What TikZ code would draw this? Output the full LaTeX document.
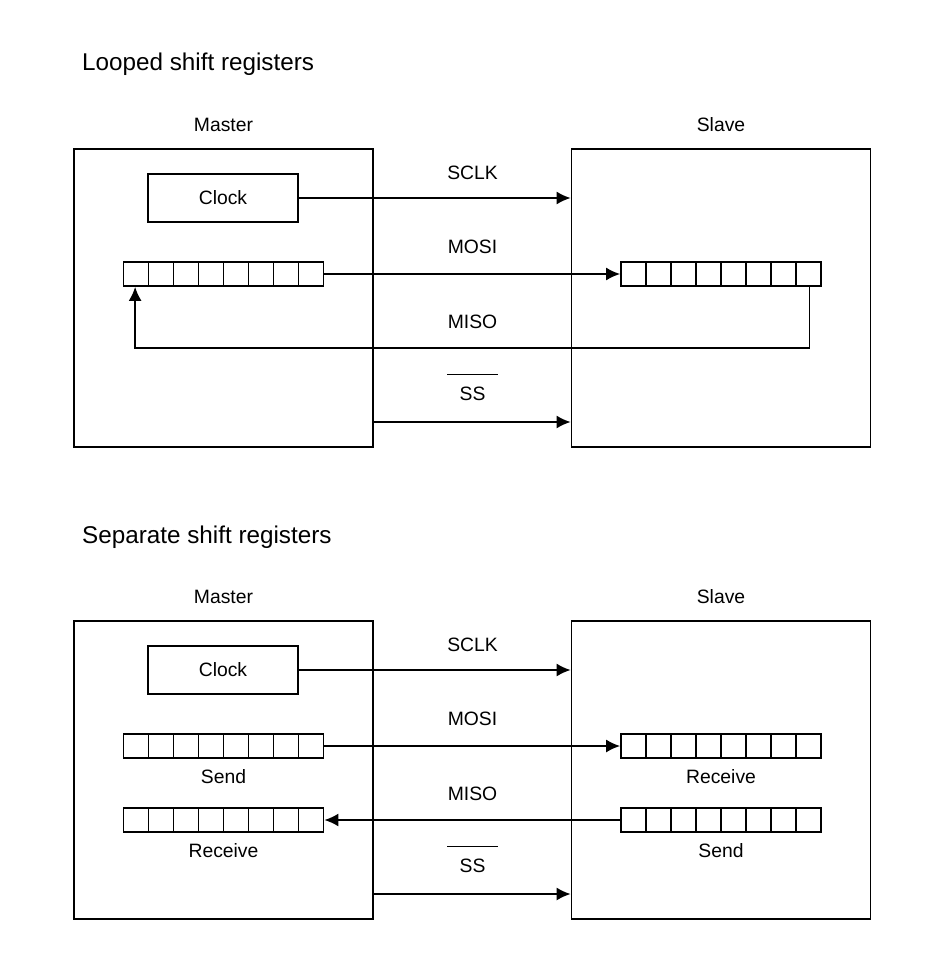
\documentclass[tikz,border=0pt]{standalone}
\usepackage{fontspec}
\setmainfont{Liberation Sans}
\usetikzlibrary{positioning,arrows.meta}
\tikzset {
    unit box/.style={
        draw=black,
        line width=1pt,
        rectangle, % master / slave
        minimum width=5.98cm,
        minimum height=5.96cm,
    },
    clock box/.style={
        draw=black,
        line width=1pt,
        rectangle,
        minimum width=3cm,
        minimum height=0.96cm,
    },
    register/.style={
        draw=black,
        line width=1pt,
        rectangle, % 8 cells
        inner sep=0pt,
        minimum width=4cm,
        minimum height=0.48cm,
        path picture={
            \foreach \k in {1,...,7}
                \draw[line width=1pt] ([xshift=\k*5mm]path picture bounding box.south west) -- ([xshift=\k*5mm]path picture bounding box.north west);
        },
    },
    signal/.style={line width=1pt, -{Latex[length=2.8mm,width=2.6mm]}},
    title/.style={anchor=west, font=\fontsize{13.8}{16}\selectfont},
}

\begin{document}
\begin{tikzpicture}
[font=\fontsize{11}{13}\selectfont]
\useasboundingbox (0,0) rectangle (18.9,-19.4);

% looped shift registers
\node[title] at (1.52,-1.28) (titleA) {Looped shift registers};
\node[unit box] at (4.47,-5.96) (mboxA) {};
\node[unit box] at (14.42,-5.96) (sboxA) {};
\node[above=0.2cm of mboxA] (mlabelA) {Master};
\node[above=0.2cm of sboxA] (slabelA) {Slave};
\node[clock box] at (4.46,-3.96) (clkA) {Clock};
\node[register] at (4.47,-5.48) (mregA) {};
\node[register] at (14.42,-5.48) (sregA) {};
\node at (9.45,-3.46) (sclkA) {SCLK};
\node at (9.45,-4.94) (mosiA) {MOSI};
\node at (9.45,-6.44) (misoA) {MISO};
\node[align=center] at (9.45,-7.74) (ssA) {\rule{1.02cm}{0.7pt}\\[1.5pt]SS};
\coordinate (misoturnA) at (9.45,-6.96);
\coordinate (ssoutA) at ([yshift=-2.48cm]mboxA.east);
\draw[signal] (clkA.east) -- (clkA.east -| sboxA.west);
\draw[signal] (mregA.east) -- (sregA.west);
\draw[signal] ([xshift=-2.5mm]sregA.south east) |- (misoturnA) -| ([xshift=2.5mm]mregA.south west);
\draw[signal] (ssoutA) -- (ssoutA -| sboxA.west);

% separate shift registers
\begin{scope}[yshift=-9.44cm]
\node[title] at (1.52,-1.30) (titleB) {Separate shift registers};
\node[unit box] at (4.47,-5.96) (mboxB) {};
\node[unit box] at (14.42,-5.96) (sboxB) {};
\node[above=0.2cm of mboxB] (mlabelB) {Master};
\node[above=0.2cm of sboxB] (slabelB) {Slave};
\node[clock box] at (4.46,-3.96) (clkB) {Clock};
\node[register] at (4.47,-5.48) (msendB) {};
\node[register] at (4.47,-6.96) (mrecvB) {};
\node[register] at (14.42,-5.48) (srecvB) {};
\node[register] at (14.42,-6.96) (ssendB) {};
\node[below=0.09cm of msendB] (msendlabelB) {Send};
\node[below=0.09cm of mrecvB] (mrecvlabelB) {Receive};
\node[below=0.09cm of srecvB] (srecvlabelB) {Receive};
\node[below=0.09cm of ssendB] (ssendlabelB) {Send};
\node at (9.45,-3.46) (sclkB) {SCLK};
\node at (9.45,-4.94) (mosiB) {MOSI};
\node at (9.45,-6.44) (misoB) {MISO};
\node[align=center] at (9.45,-7.74) (ssB) {\rule{1.02cm}{0.7pt}\\[1.5pt]SS};
\coordinate (ssoutB) at ([yshift=-2.48cm]mboxB.east);
\draw[signal] (clkB.east) -- (clkB.east -| sboxB.west);
\draw[signal] (msendB.east) -- (srecvB.west);
\draw[signal] (ssendB.west) -- (mrecvB.east);
\draw[signal] (ssoutB) -- (ssoutB -| sboxB.west);
\end{scope}
\end{tikzpicture}
\end{document}
